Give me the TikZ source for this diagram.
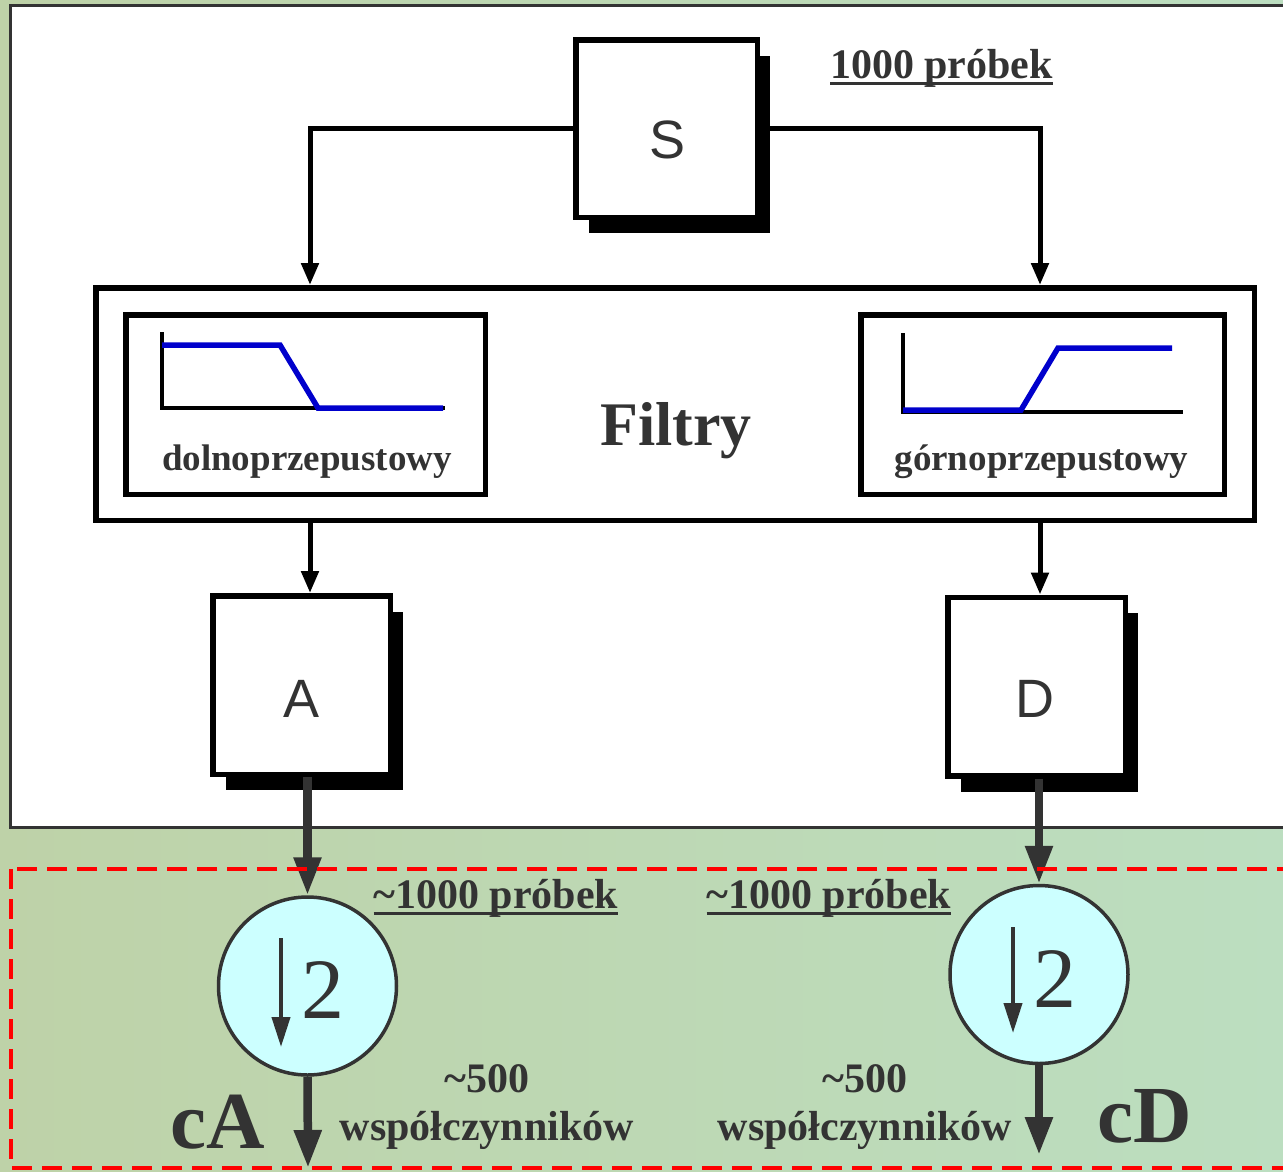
\documentclass[tikz,border=0pt]{standalone}
\usepackage{fontspec}
\setmainfont{Liberation Serif}
\newfontfamily\arialfont{Liberation Sans}
\usetikzlibrary{arrows.meta,shadows}

\definecolor{ink}{HTML}{333333}
\definecolor{discfill}{HTML}{CCFFFF}
\definecolor{bgA}{RGB}{190,210,168}
\definecolor{bgB}{RGB}{172,208,172}
\definecolor{bgC}{RGB}{188,222,192}
\definecolor{curve}{HTML}{0000CC}

% underline with a rule that scales with the big text
\newcommand{\ulbox}[1]{\setbox0\hbox{#1}\rlap{\rule[-7pt]{\wd0}{3pt}}\box0}

\tikzset{
  blk/.style={draw=black, line width=5.5pt, fill=white, inner sep=0pt},
  lettbox/.style={blk, minimum width=177.5pt, minimum height=178.5pt,
    drop shadow={shadow xshift=13pt, shadow yshift=-16pt, fill=black, opacity=1}},
  letter/.style={anchor=base, inner sep=0pt, text=ink,
    font=\arialfont\fontsize{54}{60}\selectfont},
  lbl/.style={anchor=base, inner sep=0pt, text=ink,
    font=\fontsize{42}{48}\selectfont\bfseries},
  flow/.style={draw=black, line width=5pt, -{Triangle[length=22pt,width=17pt]}},
  bigflow/.style={draw=ink, line width=8.5pt, -{Triangle[length=38pt,width=26pt]}},
  axis/.style={draw=black, line width=4.5pt},
  response/.style={draw=curve, line width=5.5pt, line join=miter},
  downsampler/.style={circle, draw=ink, fill=discfill, line width=3.5pt,
    minimum size=178pt, inner sep=0pt},
  minus/.style={draw=ink, line width=4pt, -{Triangle[length=30pt,width=18pt]}},
  two/.style={anchor=base, inner sep=0pt, text=ink,
    font=\fontsize{86}{90}\selectfont},
}

\begin{document}
\begin{tikzpicture}[x=1pt, y=-1pt]
\useasboundingbox (0,0) rectangle (1283,1171);

% backdrop and white panel
\shade[left color=bgA, middle color=bgB, right color=bgC] (0,0) rectangle (1283,1171);
\filldraw[fill=white, draw=ink, line width=3pt] (10,5) rectangle (1300,827);

% signal source
\node[lettbox, minimum width=181.5pt, minimum height=177.5pt] (S) at (666.5,128.5) {};
\node[letter] (Slbl) at (668,158) {S};
\node[lbl] (t1000) at (941.5,78) {\ulbox{1000 próbek}};

% filter bank
\node[blk, minimum width=1158.5pt, minimum height=232.5pt] (flt) at (675,404) {};
\node[blk, minimum width=359.5pt, minimum height=179.5pt] (lp) at (305.5,404.5) {};
\node[blk, minimum width=363.5pt, minimum height=179.5pt] (hp) at (1042.5,404.5) {};
\node[lbl, font=\fontsize{62}{66}\selectfont\bfseries] (filtry) at (676,445) {Filtry};
\node[lbl, font=\fontsize{37}{42}\selectfont\bfseries] (lplbl) at (307,470) {dolnoprzepustowy};
\node[lbl, font=\fontsize{37}{42}\selectfont\bfseries] (hplbl) at (1041.5,470) {górnoprzepustowy};

% low-pass response
\draw[axis] (162,332) -- (162,408) -- (445,408);
\draw[response] (162,345) -- (280,345) -- (318,408) -- (443,408);
% high-pass response
\draw[axis] (903,333) -- (903,412) -- (1183,412);
\draw[response] (903,410) -- (1021,410) -- (1058,348) -- (1172,348);

% approximation and detail outputs
\node[lettbox] (A) at (301.5,685) {};
\node[letter] (Albl) at (302,717) {A};
\node[lettbox] (D) at (1036.5,686.5) {};
\node[letter] (Dlbl) at (1035,717) {D};

\coordinate (lx) at (310,0);
\coordinate (rx) at (1040,0);
\draw[flow] (S.west) -| (flt.north -| lx);
\draw[flow] (S.east) -| (flt.north -| rx);
\draw[flow] (flt.south -| lx) -- (A.north -| lx);
\draw[flow] (flt.south -| rx) -- (D.north -| rx);

% downsampling by two
\node[downsampler] (dL) at (307.5,986) {};
\node[downsampler] (dR) at (1039,974.5) {};
\draw[minus] ([shift={(-26.5,-48)}]dL.center) -- ([shift={(-26.5,61)}]dL.center);
\node[two] (dL2) at ([shift={(15,32)}]dL.center) {2};
\draw[minus] ([shift={(-26,-47.5)}]dR.center) -- ([shift={(-26,58.5)}]dR.center);
\node[two] (dR2) at ([shift={(16,32.5)}]dR.center) {2};

\coordinate (cAend) at (308,1168);
\coordinate (cDend) at (1039,1155);
\draw[bigflow] (dL.north |- A.south) -- (dL.north);
\draw[bigflow] (dR.north |- D.south) -- (dR.north);
\draw[bigflow] (dL.south) -- (cAend);
\draw[bigflow] (dR.south) -- (cDend);

% sample counts
\node[lbl] (inL) at (496,908) {\ulbox{\textasciitilde 1000 próbek}};
\node[lbl] (inR) at (829,908) {\ulbox{\textasciitilde 1000 próbek}};
\node[lbl] (outL1) at (487,1092) {\textasciitilde 500};
\node[lbl] (outL2) at (487,1140) {współczynników};
\node[lbl] (outR1) at (865,1092) {\textasciitilde 500};
\node[lbl] (outR2) at (865,1140) {współczynników};
\node[lbl, font=\fontsize{81}{86}\selectfont\bfseries] (cA) at (217.5,1148) {cA};
\node[lbl, font=\fontsize{81}{86}\selectfont\bfseries] (cD) at (1144.5,1142) {cD};

% coefficient region
\draw[red, line width=3.5pt, dash pattern=on 20pt off 10pt] (11,869) rectangle (1300,1168);
\end{tikzpicture}
\end{document}
